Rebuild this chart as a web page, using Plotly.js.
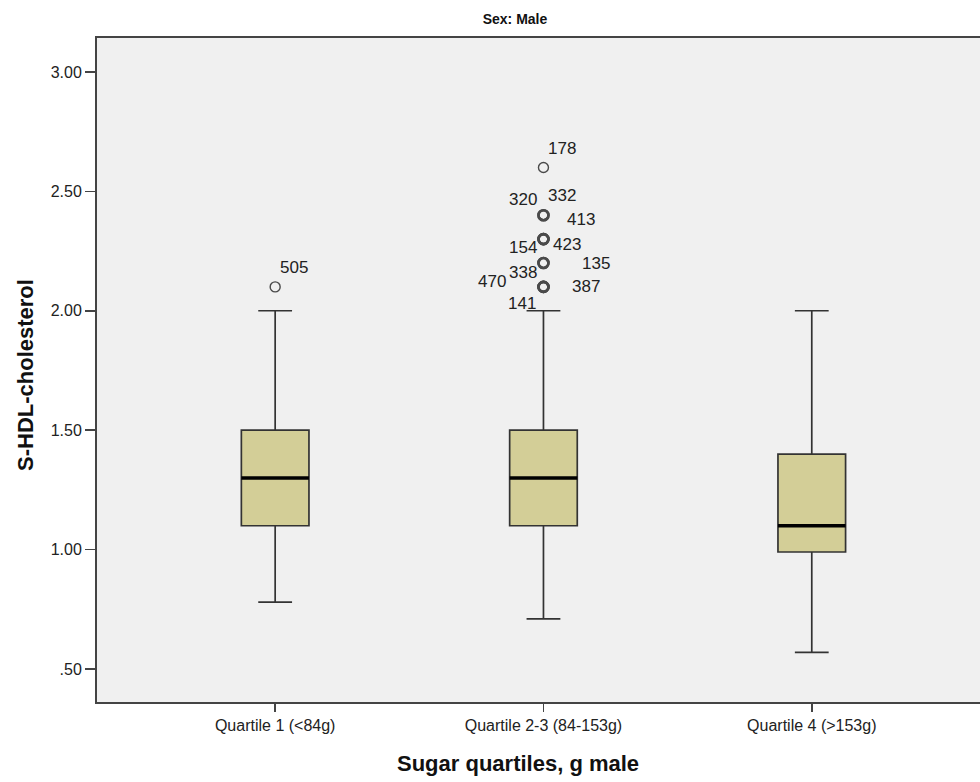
<!DOCTYPE html>
<html>
<head>
<meta charset="utf-8">
<script src="https://cdn.plot.ly/plotly-3.0.1.min.js"></script>
<style>html,body{margin:0;padding:0;background:#fff;}#chart{width:980px;height:782px;}</style>
</head>
<body>
<div id="chart"></div>
<script>
// ---- data ----
const categories = ["Quartile 1 (<84g)", "Quartile 2-3 (84-153g)", "Quartile 4 (>153g)"];
const lowerWhisker = [0.78, 0.71, 0.57];
const q1Values = [1.10, 1.10, 0.99];
const medianValues = [1.30, 1.30, 1.10];
const q3Values = [1.50, 1.50, 1.40];
const upperWhisker = [2.00, 2.00, 2.00];

// outliers: category index, value, case label
const outlierCategory = [0, 1, 1, 1, 1, 1, 1, 1, 1, 1, 1, 1];
const outlierValue = [2.1, 2.6, 2.4, 2.4, 2.3, 2.3, 2.3, 2.2, 2.2, 2.1, 2.1, 2.1];
const outlierLabel = ["505", "178", "320", "332", "413", "154", "423", "135", "338", "470", "387", "141"];

const yTickValues = [0.5, 1.0, 1.5, 2.0, 2.5, 3.0];
const yTickLabels = [".50", "1.00", "1.50", "2.00", "2.50", "3.00"];

const titleText = "Sex: Male";
const xTitleText = "Sugar quartiles, g male";
const yTitleText = "S-HDL-cholesterol";

// ---- styles / label placement (pixels) ----
const labelShift = [
  [19, 19], [19, 19], [-20, 16], [19, 20], [38, 20], [-20, -8], [24, -5],
  [53, 0], [-20, -9], [-51, 5], [43, 0], [-21, -17]
];
const BOX_W = 0.252;
const FONT = "Liberation Sans, Arial, sans-serif";

// ---- traces ----
const boxTrace = {
  type: "box",
  x: categories,
  q1: q1Values,
  median: medianValues,
  q3: q3Values,
  lowerfence: lowerWhisker,
  upperfence: upperWhisker,
  boxpoints: false,
  width: BOX_W,
  whiskerwidth: 0.5,
  fillcolor: "#d3ce97",
  line: { color: "#333333", width: 1.7 },
  hoverinfo: "skip",
  showlegend: false
};

// thick median lines
const medX = [], medY = [];
medianValues.forEach((m, i) => {
  medX.push(i - BOX_W / 2, i + BOX_W / 2, null);
  medY.push(m, m, null);
});
const medianTrace = {
  type: "scatter", mode: "lines", x: medX, y: medY,
  line: { color: "#000", width: 3.5 }, hoverinfo: "skip", showlegend: false,
  xaxis: "x2", yaxis: "y"
};

// outlier markers: overlapping cases drawn heavier
const counts = {};
outlierValue.forEach((v, i) => { const k = outlierCategory[i] + "_" + v; counts[k] = (counts[k] || 0) + 1; });
const outTrace = {
  type: "scatter", mode: "markers",
  x: outlierCategory.map(c => categories[c]),
  y: outlierValue,
  marker: {
    symbol: "circle-open", size: 10, color: "#4a4a4a",
    line: { width: outlierValue.map((v, i) => counts[outlierCategory[i] + "_" + v] > 1 ? 2.6 : 1.4), color: "#4a4a4a" }
  },
  hoverinfo: "skip", showlegend: false
};

const annotations = outlierLabel.map((t, i) => ({
  x: categories[outlierCategory[i]], y: outlierValue[i], xref: "x", yref: "y",
  text: t, showarrow: false, xshift: labelShift[i][0], yshift: labelShift[i][1],
  font: { family: FONT, size: 17, color: "#222" }
}));
annotations.push({
  xref: "paper", yref: "paper", x: (518 - 97) / 883, y: (702 - 763) / 664,
  text: "<b>" + xTitleText + "</b>", showarrow: false, xanchor: "center", yanchor: "middle",
  font: { family: FONT, size: 22, color: "#111" }
});
annotations.push({
  xref: "paper", yref: "paper", x: (25 - 97) / 883, y: (702 - 375) / 664,
  text: "<b>" + yTitleText + "</b>", showarrow: false, textangle: -90, xanchor: "center", yanchor: "middle",
  font: { family: FONT, size: 22, color: "#111" }
});

const xr = [-0.664, 2.627];
const layout = {
  width: 980, height: 782,
  margin: { l: 97, r: 0, t: 38, b: 80 },
  paper_bgcolor: "#ffffff",
  plot_bgcolor: "#f0f0f0",
  font: { family: FONT, size: 16, color: "#222" },
  title: {
    text: "<b>" + titleText + "</b>", x: 515 / 980, xanchor: "center", xref: "container",
    y: 1 - 19 / 782, yanchor: "middle", yref: "container",
    font: { family: FONT, size: 14, color: "#111" }
  },
  xaxis: {
    type: "category", range: xr, showgrid: false, zeroline: false,
    showline: true, mirror: true, linecolor: "#444", linewidth: 2,
    ticks: "outside", ticklen: 8, tickwidth: 1.5, tickcolor: "#444",
    tickfont: { family: FONT, size: 16, color: "#222" }
  },
  xaxis2: {
    overlaying: "x", range: xr, visible: false, showgrid: false, zeroline: false
  },
  yaxis: {
    range: [0.362, 3.142], showgrid: false, zeroline: false,
    showline: true, linecolor: "#444", linewidth: 2,
    ticks: "outside", ticklen: 10, tickwidth: 1.5, tickcolor: "#444",
    tickvals: yTickValues, ticktext: yTickLabels,
    tickfont: { family: FONT, size: 16, color: "#222" }
  },
  annotations: annotations,
  showlegend: false
};

Plotly.newPlot("chart", [boxTrace, medianTrace, outTrace], layout, { displayModeBar: false, staticPlot: true });
</script>
</body>
</html>
